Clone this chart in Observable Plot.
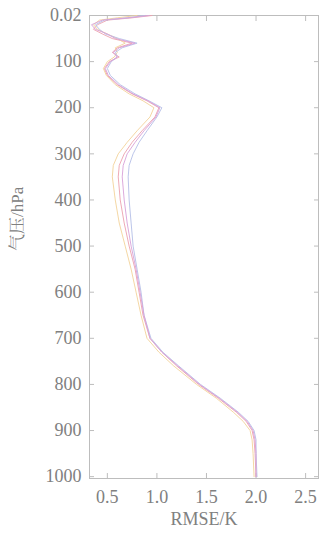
<!DOCTYPE html>
<html><head><meta charset="utf-8">
<script src="https://cdn.jsdelivr.net/npm/d3@7"></script>
<script src="https://cdn.jsdelivr.net/npm/@observablehq/plot@0.6"></script>
<style>
body{margin:0;background:#fff}
#chart svg, #chart svg text {font-family: "Liberation Serif", "Times New Roman", "Noto Serif CJK SC", "Noto Sans CJK SC", serif !important;}
</style>
</head><body><div id="chart"></div>
<script>
const pressure = [0.02,5,10,20,30,40,50,60,70,80,90,100,115,130,150,170,185,200,220,250,275,300,325,350,400,450,500,550,600,650,700,730,760,800,830,860,880,900,920,950,1000];
const rmseRed    = [0.95,0.75,0.50,0.40,0.36,0.45,0.55,0.75,0.60,0.55,0.62,0.52,0.47,0.50,0.60,0.75,0.90,1.02,0.98,0.85,0.75,0.67,0.62,0.61,0.63,0.67,0.72,0.78,0.82,0.86,0.93,1.05,1.20,1.42,1.62,1.80,1.90,1.96,1.98,1.99,2.00];
const rmseOrange = [0.80,0.60,0.42,0.36,0.40,0.50,0.60,0.68,0.58,0.60,0.57,0.50,0.46,0.49,0.58,0.72,0.86,0.97,0.93,0.80,0.70,0.61,0.56,0.55,0.58,0.62,0.68,0.74,0.79,0.84,0.90,1.02,1.17,1.40,1.60,1.77,1.87,1.94,1.96,1.97,1.98];
const rmseBlue   = [0.88,0.70,0.47,0.38,0.42,0.48,0.62,0.80,0.65,0.58,0.60,0.54,0.50,0.53,0.63,0.78,0.92,1.05,1.00,0.90,0.82,0.76,0.72,0.71,0.72,0.74,0.76,0.80,0.84,0.87,0.94,1.06,1.22,1.44,1.64,1.82,1.92,1.98,2.00,2.00,2.01];
const rmsePurple = [0.92,0.72,0.45,0.34,0.38,0.50,0.58,0.78,0.62,0.56,0.60,0.53,0.48,0.51,0.61,0.76,0.91,1.03,0.99,0.87,0.78,0.70,0.66,0.65,0.67,0.70,0.74,0.79,0.83,0.87,0.93,1.05,1.21,1.43,1.63,1.81,1.91,1.97,1.99,2.00,2.00];
const seriesNames = ["A","B","C","D"];
const seriesColors = ["#eca0ae","#f3d39a","#b4bee6","#d8a0d8"];
const xTicks = [0.5,1.0,1.5,2.0,2.5];
const yTicks = [0.02,100,200,300,400,500,600,700,800,900,1000];
const xLabel = "RMSE/K";
const yLabel = "气压/hPa";

const allSeries = [rmseRed, rmseOrange, rmseBlue, rmsePurple];
const rows = [];
allSeries.forEach((vals, si) => vals.forEach((v, i) => rows.push({series: seriesNames[si], p: pressure[i], v})));

const gray = "#808080";
const frameC = "#bdbdbd";
const none = () => "";

const chart = Plot.plot({
  width: 321, height: 537,
  marginLeft: 89, marginRight: 3, marginTop: 15, marginBottom: 59,
  style: {fontSize: "18px", color: gray, background: "#fff"},
  x: {domain: [0.32, 2.63]},
  y: {domain: [0, 1004], reverse: true},
  color: {domain: seriesNames, range: seriesColors},
  marks: [
    Plot.frame({stroke: frameC}),
    Plot.axisX(xTicks, {anchor: "bottom", tickSize: 0, tickFormat: d => d.toFixed(1), tickPadding: 12, label: null, fill: gray, fontSize: 18}),
    Plot.axisY(yTicks, {anchor: "left", tickSize: 0, tickFormat: d => d === 0.02 ? "0.02" : String(d), tickPadding: 8, label: null, fill: gray, fontSize: 18}),
    Plot.axisX(xTicks, {anchor: "bottom", tickSize: 5, dy: -5, stroke: frameC, tickFormat: none, label: null}),
    Plot.axisX(xTicks, {anchor: "top", tickSize: 5, dy: 5, stroke: frameC, tickFormat: none, label: null}),
    Plot.axisY(yTicks, {anchor: "left", tickSize: 5, dx: 5, stroke: frameC, tickFormat: none, label: null}),
    Plot.axisY(yTicks, {anchor: "right", tickSize: 5, dx: -5, stroke: frameC, tickFormat: none, label: null}),
    Plot.line(rows, {x: "v", y: "p", z: "series", stroke: "series", strokeWidth: 0.9, curve: "linear"}),
    Plot.text([xLabel], {frameAnchor: "bottom", dy: 46, fill: gray, fontSize: 18}),
    Plot.text([yLabel], {frameAnchor: "left", rotate: -90, dx: -72, dy: 4, fill: gray, fontSize: 17})
  ]
});
document.getElementById("chart").appendChild(chart);
</script></body></html>
